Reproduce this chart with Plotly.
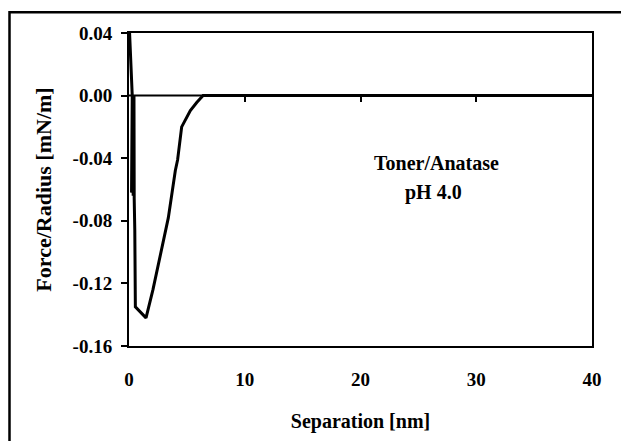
import plotly.graph_objects as go

# Data (Separation nm, Force/Radius mN/m)
separation = [0.05, 0.10, 0.20, 0.28, 0.22, 0.34, 0.36, 0.43, 0.45,
              0.50, 0.55, 1.47, 2.07, 2.85, 3.40, 4.00, 4.20, 4.55, 4.70, 5.30,
              5.85, 6.40, 10.0, 20.0, 30.0, 40.0]
force = [0.040, 0.030, 0.012, 0.000, -0.062, 0.000, -0.064, 0.000, -0.066,
         -0.086, -0.135, -0.142, -0.124, -0.0965, -0.078, -0.048,
         -0.041, -0.020, -0.018, -0.0095, -0.0044, 0.000, 0.000, 0.000, 0.000, 0.000]

x_ticks = [0, 10, 20, 30, 40]
y_ticks = [0.04, 0.00, -0.04, -0.08, -0.12, -0.16]
y_tick_labels = ["0.04", "0.00", "-0.04", "-0.08", "-0.12", "-0.16"]

FONT = "Liberation Serif"

fig = go.Figure()
fig.add_trace(go.Scatter(x=separation, y=force, mode="lines",
                         line=dict(color="black", width=3), showlegend=False,
                         xaxis="x", yaxis="y"))
# zero-line axis carrying the small ticks
fig.add_trace(go.Scatter(x=[0, 40], y=[0, 0], mode="lines",
                         line=dict(color="black", width=2), showlegend=False,
                         xaxis="x2", yaxis="y"))

fig.update_layout(
    width=621, height=433,
    margin=dict(l=121, r=37, t=25, b=92),
    paper_bgcolor="white", plot_bgcolor="white",
    font=dict(family=FONT, color="black", size=18),
    xaxis=dict(range=[0, 40], tickvals=x_ticks, ticktext=[str(v) for v in x_ticks],
               showgrid=False, zeroline=False, showline=True, linecolor="black",
               linewidth=2, mirror=True, ticks="", ticklabelstandoff=15,
               tickfont=dict(family=FONT, size=19, weight="bold"),
               title=dict(text="<b>Separation [nm]</b>", standoff=25,
                          font=dict(family=FONT, size=20))),
    xaxis2=dict(range=[0, 40], overlaying="x", anchor="free", position=0.8,
                side="bottom", tickvals=x_ticks[1:4], showticklabels=False,
                ticks="outside", ticklen=5, tickwidth=2, tickcolor="black",
                showline=False, showgrid=False, zeroline=False),
    yaxis=dict(range=[-0.16, 0.04], tickvals=y_ticks, ticktext=y_tick_labels,
               showgrid=False, zeroline=False, showline=True, linecolor="black",
               linewidth=2, mirror=True, ticks="outside", ticklen=6, tickwidth=2,
               tickcolor="black", ticklabelstandoff=5,
               tickfont=dict(family=FONT, size=19, weight="bold"),
               title=dict(text="<b>Force/Radius [mN/m]</b>", standoff=15,
                          font=dict(family=FONT, size=22))),
    annotations=[
        dict(x=26.6, y=-0.0432, xref="x", yref="y", text="<b>Toner/Anatase</b>",
             showarrow=False, font=dict(family=FONT, size=20)),
        dict(x=26.3, y=-0.0622, xref="x", yref="y", text="<b>pH 4.0</b>",
             showarrow=False, font=dict(family=FONT, size=20)),
    ],
    shapes=[dict(type="rect", xref="paper", yref="paper",
                 x0=-0.2581, x1=1.0778, y0=-0.35, y1=1.0665,
                 line=dict(color="black", width=2.5), layer="below")],
)

fig.write_html("out.html")
